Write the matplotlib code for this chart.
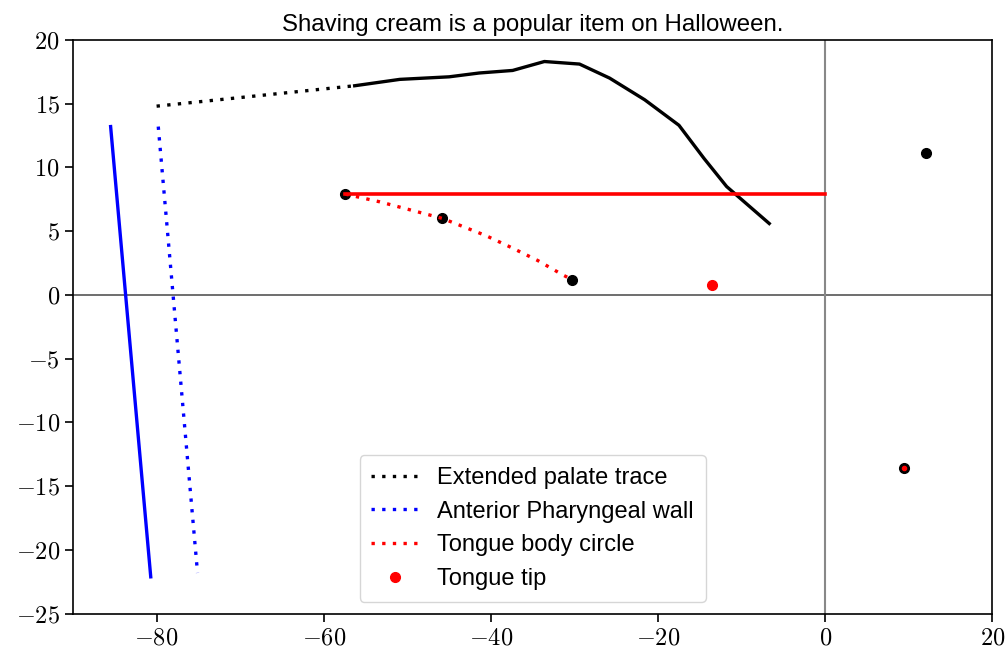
import matplotlib
matplotlib.use("Agg")
import matplotlib.pyplot as plt
from matplotlib.ticker import FuncFormatter

plt.rcParams["mathtext.fontset"] = "cm"
plt.rcParams["font.family"] = ["Liberation Sans", "DejaVu Sans"]

# Palate trace (measured part) and its linear extension toward the pharynx
palate_x = [-56.3, -50.9, -45.0, -41.4, -37.4, -33.6, -29.4, -25.8, -21.6, -17.5, -14.5, -11.8, -6.7]
palate_y = [16.4, 16.9, 17.1, 17.4, 17.6, 18.3, 18.1, 17.0, 15.3, 13.3, 10.7, 8.5, 5.6]
ext_palate_x = [-80.0, -56.3]
ext_palate_y = [14.8, 16.4]

# Pharyngeal walls
pharynx_x = [-85.5, -80.7]
pharynx_y = [13.2, -22.1]
ant_pharynx_x = [-79.8, -75.1]
ant_pharynx_y = [13.2, -21.8]

# Tongue body circle arc and its fitted points
tongue_arc_x = [-57.4, -53.3, -45.8, -40.6, -37.5, -34.4, -31.4, -30.3]
tongue_arc_y = [7.9, 7.3, 6.0, 4.65, 3.7, 2.7, 1.57, 1.2]
tongue_pts_x = [-57.4, -45.8, -30.3]
tongue_pts_y = [7.9, 6.0, 1.2]
tongue_level_y = 7.9
tongue_level_x = [-57.4, 0.0]

# Tongue tip and reference landmarks
tip_x, tip_y = -13.6, 0.78
landmark_x, landmark_y = 12.0, 11.1
origin_pt_x, origin_pt_y = 9.45, -13.6

title = "Shaving cream is a popular item on Halloween."
x_ticks = [-80, -60, -40, -20, 0, 20]
y_ticks = [-25, -20, -15, -10, -5, 0, 5, 10, 15, 20]

DOT = (0, (1, 2.2))

fig = plt.figure(figsize=(10.07, 6.53), dpi=100)
ax = fig.add_axes([0.0725, 0.06, 0.913, 0.879])

ax.axhline(0, color="#555555", lw=1.2, zorder=1)
ax.axvline(0, color="#888888", lw=1.5, zorder=1)

ax.plot(ext_palate_x, ext_palate_y, color="black", ls=DOT, lw=2.4, label="Extended palate trace")
ax.plot(palate_x, palate_y, color="black", lw=2.4)
ax.plot(ant_pharynx_x, ant_pharynx_y, color="blue", ls=DOT, lw=2.4, label="Anterior Pharyngeal wall")
ax.plot(pharynx_x, pharynx_y, color="blue", lw=2.4)
ax.plot(tongue_pts_x, tongue_pts_y, "o", color="black", ms=7, zorder=3)
ax.plot(tongue_arc_x, tongue_arc_y, color="red", ls=DOT, lw=2.4, label="Tongue body circle", zorder=4)
ax.plot(tongue_level_x, [tongue_level_y] * 2, color="red", lw=2.6, zorder=4)
ax.plot([tip_x], [tip_y], "o", color="red", ms=7, label="Tongue tip", zorder=5)
ax.plot([landmark_x], [landmark_y], "o", color="black", ms=7, zorder=5)
ax.plot([origin_pt_x], [origin_pt_y], "o", color="black", ms=7, zorder=5)
ax.plot([origin_pt_x], [origin_pt_y], "o", color="red", ms=3, zorder=6)

ax.set_xlim(-90, 20)
ax.set_ylim(-25, 20)
ax.set_xticks(x_ticks)
ax.set_yticks(y_ticks)
fmt = FuncFormatter(lambda v, p: r"$%d$" % v)
ax.xaxis.set_major_formatter(fmt)
ax.yaxis.set_major_formatter(fmt)
ax.tick_params(labelsize=17.5, length=6, width=1.2)
for s in ax.spines.values():
    s.set_linewidth(1.2)

ax.set_title(title, fontsize=17.3, pad=6)
ax.legend(loc="lower center", bbox_to_anchor=(0.5, 0.0), fontsize=17,
          handlelength=2.0, borderpad=0.5, labelspacing=0.5)

fig.savefig("out.png", dpi=100)
